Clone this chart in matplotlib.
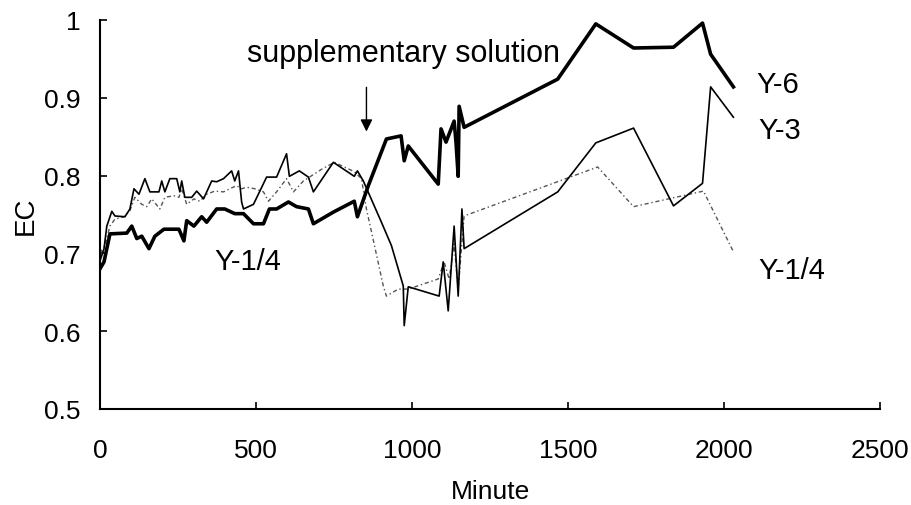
import matplotlib
matplotlib.use("Agg")
import matplotlib.pyplot as plt

plt.rcParams['font.family'] = ['Liberation Sans', 'DejaVu Sans']

# Y-6 (thick solid)
y6_min = [0, 13, 32, 86, 102, 118, 134, 157, 176, 205, 253, 269, 278, 301, 326, 342,
          374, 400, 432, 460, 492, 524, 543, 566, 604, 630, 668, 684, 748, 815, 825,
          860, 918, 965, 975, 988, 1084, 1093, 1109, 1135, 1141, 1148, 1151, 1167,
          1467, 1589, 1710, 1838, 1931, 1957, 2030]
y6_ec = [0.68, 0.689, 0.725, 0.726, 0.735, 0.719, 0.722, 0.706, 0.722, 0.731, 0.731,
         0.716, 0.742, 0.735, 0.747, 0.740, 0.757, 0.757, 0.751, 0.751, 0.738, 0.738,
         0.757, 0.757, 0.766, 0.760, 0.757, 0.738, 0.753, 0.767, 0.747, 0.787, 0.847,
         0.851, 0.819, 0.838, 0.789, 0.860, 0.843, 0.870, 0.843, 0.799, 0.889, 0.862,
         0.924, 0.995, 0.964, 0.965, 0.996, 0.956, 0.914]

# Y-3 (thin solid)
y3_min = [0, 13, 22, 38, 48, 80, 96, 109, 125, 144, 160, 189, 198, 208, 224, 246, 256,
          262, 272, 294, 310, 332, 358, 374, 396, 422, 432, 444, 454, 460, 492, 534,
          566, 598, 607, 639, 668, 684, 748, 815, 825, 844, 902, 934, 972, 975, 988,
          1087, 1100, 1116, 1135, 1148, 1160, 1167, 1467, 1589, 1710, 1838, 1931,
          1957, 2030]
y3_ec = [0.69, 0.706, 0.735, 0.754, 0.748, 0.747, 0.757, 0.783, 0.776, 0.796, 0.779,
         0.779, 0.793, 0.779, 0.796, 0.796, 0.779, 0.793, 0.772, 0.772, 0.780, 0.770,
         0.793, 0.792, 0.796, 0.806, 0.793, 0.806, 0.766, 0.757, 0.763, 0.798, 0.798,
         0.828, 0.799, 0.806, 0.798, 0.779, 0.817, 0.799, 0.806, 0.793, 0.740, 0.710,
         0.658, 0.607, 0.657, 0.645, 0.689, 0.626, 0.735, 0.645, 0.757, 0.706, 0.779,
         0.842, 0.861, 0.761, 0.790, 0.914, 0.875]

# Y-1/4 (dotted)
yq_min = [0, 16, 32, 48, 77, 96, 112, 134, 150, 166, 192, 208, 237, 253, 262, 278, 301,
          320, 342, 368, 396, 416, 438, 454, 470, 496, 524, 540, 566, 598, 620, 652,
          710, 751, 815, 838, 854, 870, 908, 918, 956, 988, 1084, 1103, 1119, 1135,
          1148, 1167, 1595, 1710, 1934, 2030]
yq_ec = [0.70, 0.710, 0.735, 0.744, 0.747, 0.755, 0.772, 0.763, 0.760, 0.770, 0.757,
         0.772, 0.774, 0.772, 0.783, 0.763, 0.770, 0.767, 0.776, 0.780, 0.779, 0.783,
         0.787, 0.783, 0.785, 0.783, 0.779, 0.767, 0.779, 0.796, 0.779, 0.793, 0.808,
         0.817, 0.805, 0.796, 0.757, 0.728, 0.658, 0.645, 0.654, 0.654, 0.667, 0.689,
         0.667, 0.712, 0.654, 0.748, 0.811, 0.760, 0.780, 0.702]

fig = plt.figure(figsize=(9.12, 5.06), dpi=100)
ax = fig.add_axes([0.1096, 0.190, 0.8554, 0.7685])

ax.plot(yq_min, yq_ec, color='#555555', lw=1.0, ls=(0, (3, 2, 1, 2)))
ax.plot(y3_min, y3_ec, color='black', lw=1.2)
ax.plot(y6_min, y6_ec, color='black', lw=2.6)

ax.set_xlim(0, 2500)
ax.set_ylim(0.5, 1.0)
ax.set_xticks([0, 500, 1000, 1500, 2000, 2500])
ax.set_yticks([0.5, 0.6, 0.7, 0.8, 0.9, 1.0])
ax.set_yticklabels(['0.5', '0.6', '0.7', '0.8', '0.9', '1'])
ax.tick_params(axis='both', direction='in', length=5, width=1.2, labelsize=19)
ax.tick_params(axis='x', pad=21)
ax.tick_params(axis='y', pad=14)
for s in ['top', 'right']:
    ax.spines[s].set_visible(False)
for s in ['left', 'bottom']:
    ax.spines[s].set_linewidth(1.5)

ax.set_xlabel('Minute', fontsize=19, labelpad=12)
ax.set_ylabel('EC', fontsize=20, labelpad=4)

ax.annotate('', xy=(854, 0.853), xytext=(854, 0.917),
            arrowprops=dict(arrowstyle='-|>', color='black', lw=1.0, mutation_scale=18))
ax.text(972, 0.957, 'supplementary solution', fontsize=22, ha='center', va='center')
ax.text(2105, 0.918, 'Y-6', fontsize=21, ha='left', va='center')
ax.text(2110, 0.858, 'Y-3', fontsize=21, ha='left', va='center')
ax.text(2110, 0.678, 'Y-1/4', fontsize=21, ha='left', va='center')
ax.text(368, 0.69, 'Y-1/4', fontsize=21, ha='left', va='center')

fig.savefig('out.png', dpi=100)
